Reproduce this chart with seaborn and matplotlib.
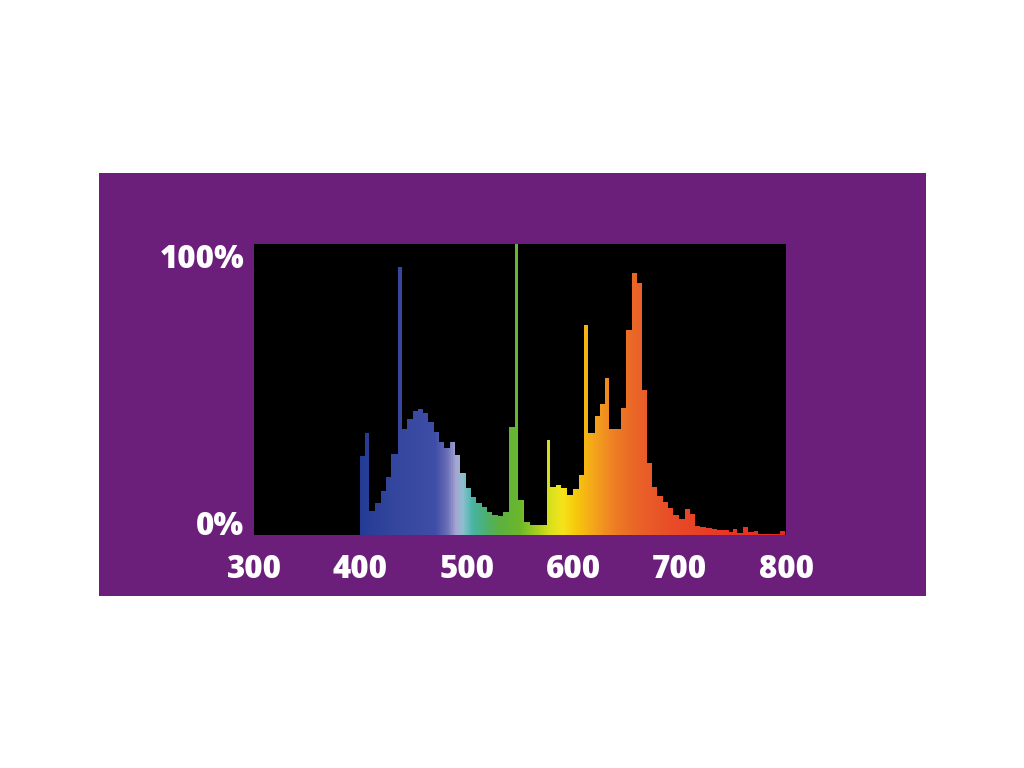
import numpy as np
import matplotlib
matplotlib.use('Agg')
import matplotlib.pyplot as plt
from matplotlib.colors import LinearSegmentedColormap, Normalize
from matplotlib.patches import Rectangle
import seaborn as sns

# spectrum: bin edges (nm) and relative intensity (%)
wl_edges = [399.5, 404, 408, 414, 419, 424, 429, 435.5, 439, 444, 449, 454, 459,
            464, 469, 474, 479, 484, 489, 494, 499, 504, 509, 514, 519, 524, 529,
            534, 540, 545, 548.5, 554, 559.5, 575, 578, 584, 589, 594, 599.5, 605,
            610, 613.5, 620.5, 625, 630, 634, 644.5, 650, 655, 660, 664.5, 669,
            674.5, 679, 684, 689.5, 694, 699.5, 705, 709.5, 714.5, 719, 725, 730,
            735, 739.5, 746, 750.5, 754, 760, 764.5, 769.5, 774, 794.5, 799.5]
intensity = [27, 35, 8.4, 11, 15, 20, 28, 92, 36.4, 40, 42.7, 43.3, 41.9,
             39, 35.5, 32, 29.8, 32, 27.5, 21.2, 16, 13, 11, 9.7, 8, 6.9, 6.6,
             8, 37, 100, 12, 4.6, 3.4, 32.6, 16.6, 17.2, 16, 13.7, 15.8, 20.6,
             72, 35, 41, 45, 54, 36.4, 43.5, 70.4, 90, 86.5, 50, 24.6,
             16.6, 13.4, 11.5, 9.2, 6.9, 5.4, 8.8, 7.2, 3.1, 2.6, 2.3, 2.0,
             1.8, 1.6, 1.1, 2.2, 0.8, 2.6, 1.0, 1.5, 0.5, 1.4]
wl_centers = [(a + b) / 2 for a, b in zip(wl_edges[:-1], wl_edges[1:])]

x_ticks = [300, 400, 500, 600, 700, 800]
y_ticks = [0, 100]
y_labels = ['0%', '100%']

# colour of the light at each wavelength
spec_stops = [(395, '#1f3c96'), (410, '#2a3f98'), (430, '#34469e'), (470, '#3f4ea6'),
              (482, '#6e72b8'), (489, '#a8a4d2'), (496, '#8cc0d0'), (505, '#48b4a4'),
              (518, '#4cb070'), (530, '#5cb040'), (550, '#6cb82c'), (565, '#a4cc20'),
              (578, '#d8e01c'), (590, '#f4e41c'), (603, '#f8c80c'), (620, '#f4a41c'),
              (640, '#ee7c24'), (660, '#ea6428'), (690, '#e84e28'), (730, '#e83c26'),
              (800, '#e42a20')]

PURPLE = '#6b1f7b'

sns.set_style('white')
plt.rcParams['font.family'] = ['Open Sans', 'DejaVu Sans']

fig = plt.figure(figsize=(10.24, 7.68), dpi=100, facecolor='white')
# purple panel behind the chart
fig.patches.append(Rectangle((99 / 1024, 172 / 768), 827 / 1024, 423 / 768,
                             transform=fig.transFigure, facecolor=PURPLE,
                             edgecolor='none', zorder=-5))
ax = fig.add_axes([254 / 1024, 233 / 768, 532 / 1024, 291 / 768])
ax.set_facecolor('black')

# histogram shape, then used as a clip path for the wavelength gradient
sns.histplot(x=wl_centers, weights=intensity, bins=wl_edges, element='step',
             fill=True, linewidth=0, alpha=1, color='white', ax=ax)
shape = ax.collections[-1]
clip = shape.get_paths()[0]
shape.set_visible(False)

lo, hi = spec_stops[0][0], spec_stops[-1][0]
cmap = LinearSegmentedColormap.from_list(
    'spectrum', [((w - lo) / (hi - lo), c) for w, c in spec_stops])
grad = np.linspace(lo, hi, 800)[None, :]
im = ax.imshow(grad, extent=(lo, hi, 0, 100), aspect='auto', cmap=cmap,
               norm=Normalize(lo, hi), origin='lower', zorder=2)
im.set_clip_path(clip, transform=ax.transData)

ax.set_xlim(300, 800)
ax.set_ylim(0, 100)
ax.set_xlabel('')
ax.set_ylabel('')
for s in ax.spines.values():
    s.set_visible(False)

ax.set_xticks(x_ticks)
ax.set_xticklabels([str(t) for t in x_ticks])
ax.set_yticks(y_ticks)
ax.set_yticklabels(y_labels)
ax.tick_params(length=0, colors='white', labelsize=22.5)
ax.tick_params(axis='x', pad=14)
ax.tick_params(axis='y', pad=7)
for lab in ax.get_xticklabels() + ax.get_yticklabels():
    lab.set_fontweight('heavy')
ylabs = ax.get_yticklabels()
ylabs[0].set_verticalalignment('baseline')
ylabs[1].set_verticalalignment('top')

fig.savefig('out.png', dpi=100, facecolor='white')
